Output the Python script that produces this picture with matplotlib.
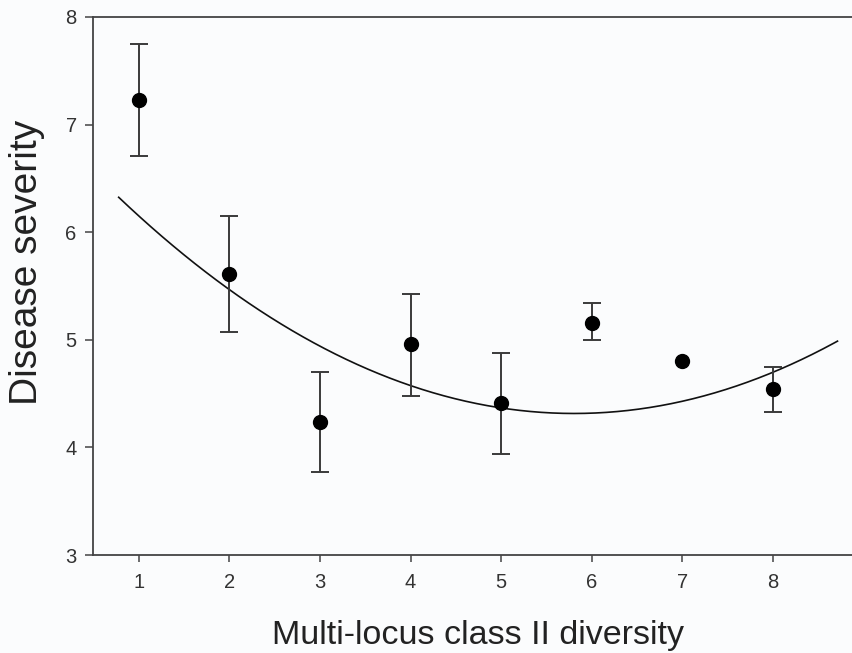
import numpy as np
import matplotlib.pyplot as plt

# Data
diversity = [1, 2, 3, 4, 5, 6, 7, 8]
severity = [7.23, 5.61, 4.24, 4.96, 4.41, 5.16, 4.80, 4.54]
err_upper = [7.75, 6.15, 4.70, 5.43, 4.88, 5.34, 4.80, 4.75]
err_lower = [6.71, 5.07, 3.77, 4.48, 3.94, 5.00, 4.80, 4.33]

# quadratic fit (coefficients, highest power first) and its drawn x-range
fit_coef = [0.0796, -0.924, 6.997]
fit_range = (0.78, 8.71)

plt.rcParams['font.family'] = ['Liberation Sans', 'DejaVu Sans']

fig = plt.figure(figsize=(8.52, 6.53), dpi=100)
fig.patch.set_facecolor('#fbfcfd')
ax = fig.add_axes([0.1095, 0.150, 0.8905, 0.824])
ax.set_facecolor('#fbfcfd')

x = np.array(diversity)
sev = np.array(severity)
lo = np.array(err_lower)
hi = np.array(err_upper)
has_err = hi > lo  # the point at 7 has no visible bar

# fitted curve
xs = np.linspace(fit_range[0], fit_range[1], 200)
ax.plot(xs, np.polyval(fit_coef, xs), color='#111111', lw=1.2, zorder=2)

ax.errorbar(x[has_err], sev[has_err],
            yerr=[sev[has_err] - lo[has_err], hi[has_err] - sev[has_err]],
            fmt='none', ecolor='#3a3a3a', elinewidth=1.4, capsize=6.2,
            capthick=1.4, zorder=3)
ax.plot(x, sev, 'o', color='black', markersize=10, zorder=4)

ax.set_xlim(0.5, 8.87)
ax.set_ylim(3, 8)
ax.set_xticks(diversity)
ax.set_yticks([3, 4, 5, 6, 7, 8])

for side in ['left', 'bottom', 'top']:
    ax.spines[side].set_color('#444444')
    ax.spines[side].set_linewidth(1.3)
ax.spines['right'].set_visible(False)

ax.tick_params(axis='y', direction='out', length=6, width=1.1, colors='#444444',
               labelcolor='#333333', labelsize=14.5, pad=6)
ax.tick_params(axis='x', direction='out', length=5, width=1.1, colors='#444444',
               labelcolor='#333333', labelsize=14.5, pad=8)

fig.text(477.5 / 852, 1 - 644 / 653, 'Multi-locus class II diversity',
         fontsize=24.5, color='#222222', ha='center', va='baseline')
fig.text(27 / 852, 1 - 262 / 653, 'Disease severity', fontsize=28,
         color='#222222', ha='center', va='center', rotation=90)

fig.savefig('out.png', dpi=100, facecolor=fig.get_facecolor())
